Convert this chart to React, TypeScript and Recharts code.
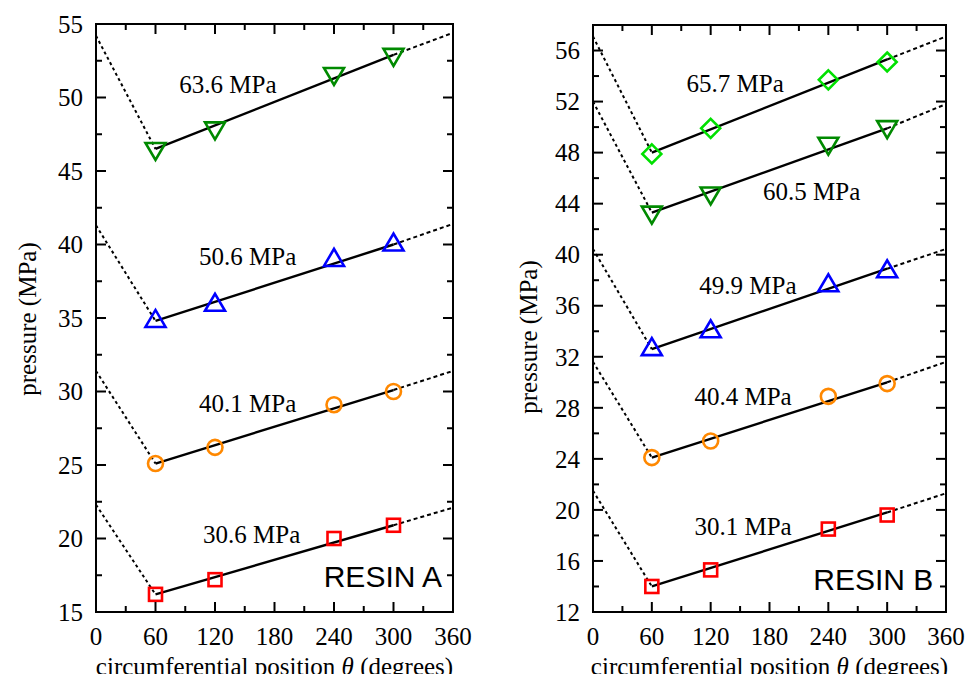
import React from 'react';
import { ComposedChart, Line, Scatter, XAxis, YAxis, ReferenceArea } from 'recharts';

const SERIF = '"Liberation Serif", "Times New Roman", serif';
const SANS = '"Liberation Sans", Arial, sans-serif';

// angles where pressure was measured, and the breakpoints of the fitted V lines
const angles = [60, 120, 240, 300];
const fitAngles = [0, 60, 300, 360];
const xTicks = [0, 30, 60, 90, 120, 150, 180, 210, 240, 270, 300, 330, 360];

// RESIN A measurements
const a636 = [46.5, 47.9, 51.6, 52.9];
const a506 = [34.8, 35.9, 38.95, 40.0];
const a401 = [25.1, 26.2, 29.1, 30.0];
const a306 = [16.2, 17.2, 20.0, 20.9];
// RESIN A fit lines (values at fitAngles)
const fitA636 = [54.2, 46.5, 52.9, 54.4];
const fitA506 = [41.3, 34.8, 40.0, 41.4];
const fitA401 = [31.4, 25.1, 30.1, 31.4];
const fitA306 = [22.3, 16.2, 20.9, 22.1];
const ticksA = [15, 17.5, 20, 22.5, 25, 27.5, 30, 32.5, 35, 37.5, 40, 42.5, 45, 47.5, 50, 52.5, 55];

// RESIN B measurements
const b657 = [47.9, 49.9, 53.7, 55.1];
const b605 = [43.3, 44.8, 48.7, 50.0];
const b499 = [32.6, 34.0, 37.6, 38.7];
const b404 = [24.1, 25.4, 28.9, 29.9];
const b301 = [14.0, 15.3, 18.5, 19.6];
// RESIN B fit lines
const fitB657 = [57.1, 48.0, 55.3, 57.1];
const fitB605 = [52.0, 43.3, 49.9, 51.8];
const fitB499 = [40.45, 32.6, 38.9, 40.45];
const fitB404 = [31.6, 24.1, 30.0, 31.6];
const fitB301 = [21.5, 14.0, 19.8, 21.3];
const ticksB = [12, 14, 16, 18, 20, 22, 24, 26, 28, 30, 32, 34, 36, 38, 40, 42, 44, 46, 48, 50, 52, 54, 56, 58];

// annotation labels
const labelsA = ['63.6 MPa', '50.6 MPa', '40.1 MPa', '30.6 MPa'];
const labelPosA = [[133, 50.9], [153, 39.2], [153, 29.2], [157, 20.3]];
const labelsB = ['65.7 MPa', '60.5 MPa', '49.9 MPa', '40.4 MPa', '30.1 MPa'];
const labelPosB = [[145, 53.4], [223, 45.0], [158, 37.6], [153, 28.9], [153, 18.7]];

type Box = { left: number; right: number; top: number; bottom: number };

const GREEN = '#008a00';
const LIGHT_GREEN = '#00e000';
const BLUE = '#0000ff';
const ORANGE = '#ff8800';
const RED = '#ff0000';

const markers: Record<string, (c: string) => (p: any) => React.ReactElement> = {
  down: (c) => (p) => (
    <polygon points={`${p.cx - 10},${p.cy - 6} ${p.cx + 10},${p.cy - 6} ${p.cx},${p.cy + 11}`} fill="none" stroke={c} strokeWidth={2.6} strokeLinejoin="miter" />
  ),
  up: (c) => (p) => (
    <polygon points={`${p.cx - 10},${p.cy + 6} ${p.cx + 10},${p.cy + 6} ${p.cx},${p.cy - 11}`} fill="none" stroke={c} strokeWidth={2.6} strokeLinejoin="miter" />
  ),
  circle: (c) => (p) => <circle cx={p.cx} cy={p.cy} r={7.5} fill="none" stroke={c} strokeWidth={2.6} />,
  square: (c) => (p) => <rect x={p.cx - 6.5} y={p.cy - 6.5} width={13} height={13} fill="none" stroke={c} strokeWidth={2.6} />,
  diamond: (c) => (p) => (
    <polygon points={`${p.cx},${p.cy - 9.5} ${p.cx + 9.5},${p.cy} ${p.cx},${p.cy + 9.5} ${p.cx - 9.5},${p.cy}`} fill="none" stroke={c} strokeWidth={2.6} />
  ),
};

const seg = (fit: number[], from: number, to: number) =>
  fitAngles.slice(from, to + 1).map((x, i) => ({ x, y: fit[from + i] }));

function yTick(box: Box, step: number) {
  return (props: any) => {
    const { y, payload } = props;
    const v = payload.value;
    const major = Math.abs(v / step - Math.round(v / step)) < 1e-6;
    const len = major ? 10 : 6;
    return (
      <g>
        <line x1={box.left} x2={box.left + len} y1={y} y2={y} stroke="#000" strokeWidth={2} />
        <line x1={box.right} x2={box.right - len} y1={y} y2={y} stroke="#000" strokeWidth={2} />
        {major && (
          <text x={box.left - 13} y={y} dy="0.35em" textAnchor="end" fontFamily={SERIF} fontSize={25} fill="#000">
            {v}
          </text>
        )}
      </g>
    );
  };
}

function xTick(box: Box) {
  return (props: any) => {
    const { x, payload } = props;
    const v = payload.value;
    const major = v % 60 === 0;
    const len = major ? 10 : 6;
    return (
      <g>
        <line x1={x} x2={x} y1={box.bottom} y2={box.bottom - len} stroke="#000" strokeWidth={2} />
        <line x1={x} x2={x} y1={box.top} y2={box.top + len} stroke="#000" strokeWidth={2} />
        {major && (
          <text x={x} y={box.bottom + 33} textAnchor="middle" fontFamily={SERIF} fontSize={25} fill="#000">
            {v}
          </text>
        )}
      </g>
    );
  };
}

type Series = { values: number[]; fit: number[]; color: string; shape: string };

type PanelProps = {
  width: number;
  height: number;
  box: Box;
  yDomain: [number, number];
  yTicks: number[];
  yStep: number;
  series: Series[];
  labels: string[];
  labelPos: number[][];
  resin: string;
  resinPos: [number, number];
  yLabelAt: [number, number];
};

function Panel(props: PanelProps) {
  const { width, height, box, yDomain, yTicks, yStep, series, labels, labelPos, resin, resinPos, yLabelAt } = props;
  const notes = labels.map((text, i) => ({ x: labelPos[i][0], y: labelPos[i][1], text }));
  const midX = (box.left + box.right) / 2;
  return (
    <ComposedChart
      width={width}
      height={height}
      margin={{ top: box.top, right: width - box.right, left: 0, bottom: 0 }}
    >
      <XAxis
        type="number"
        dataKey="x"
        domain={[0, 360]}
        ticks={xTicks}
        interval={0}
        allowDataOverflow
        axisLine={false}
        tickLine={false}
        tickSize={0}
        height={height - box.bottom}
        tick={xTick(box)}
      />
      <YAxis
        type="number"
        domain={yDomain}
        ticks={yTicks}
        interval={0}
        allowDataOverflow
        axisLine={false}
        tickLine={false}
        tickSize={0}
        width={box.left}
        tick={yTick(box, yStep)}
      />
      <ReferenceArea x1={0} x2={360} y1={yDomain[0]} y2={yDomain[1]} fill="none" fillOpacity={0} stroke="#000" strokeWidth={2} />
      {series.map((s, i) => (
        <Scatter
          key={'m' + i}
          data={angles.map((x, j) => ({ x, y: s.values[j] }))}
          dataKey="y"
          shape={markers[s.shape](s.color)}
          isAnimationActive={false}
        />
      ))}
      {series.map((s, i) => (
        <Line key={'l' + i} data={seg(s.fit, 0, 1)} dataKey="y" stroke="#000" strokeWidth={2} strokeDasharray="3 3" dot={false} activeDot={false} isAnimationActive={false} />
      ))}
      {series.map((s, i) => (
        <Line key={'s' + i} data={seg(s.fit, 1, 2)} dataKey="y" stroke="#000" strokeWidth={2.4} dot={false} activeDot={false} isAnimationActive={false} />
      ))}
      {series.map((s, i) => (
        <Line key={'r' + i} data={seg(s.fit, 2, 3)} dataKey="y" stroke="#000" strokeWidth={2} strokeDasharray="4 3" dot={false} activeDot={false} isAnimationActive={false} />
      ))}
      <Scatter
        data={notes}
        dataKey="y"
        isAnimationActive={false}
        shape={(p: any) => (
          <text x={p.cx} y={p.cy} dy="0.35em" textAnchor="middle" fontFamily={SERIF} fontSize={25} fill="#000">
            {p.payload.text}
          </text>
        )}
      />
      <Scatter
        data={[{ x: resinPos[0], y: resinPos[1] }]}
        dataKey="y"
        isAnimationActive={false}
        shape={(p: any) => (
          <text x={p.cx} y={p.cy} textAnchor="end" fontFamily={SANS} fontSize={30} fill="#000">
            {resin}
          </text>
        )}
      />
      <text
        x={yLabelAt[0]}
        y={yLabelAt[1]}
        transform={`rotate(-90, ${yLabelAt[0]}, ${yLabelAt[1]})`}
        textAnchor="middle"
        dominantBaseline="central"
        fontFamily={SERIF}
        fontSize={25}
        fill="#000"
      >
        pressure (MPa)
      </text>
      <text x={midX} y={height - 7} textAnchor="middle" fontFamily={SERIF} fontSize={25} fill="#000">
        circumferential position <tspan fontStyle="italic">θ</tspan> (degrees)
      </text>
    </ComposedChart>
  );
}

const seriesA: Series[] = [
  { values: a636, fit: fitA636, color: GREEN, shape: 'down' },
  { values: a506, fit: fitA506, color: BLUE, shape: 'up' },
  { values: a401, fit: fitA401, color: ORANGE, shape: 'circle' },
  { values: a306, fit: fitA306, color: RED, shape: 'square' },
];

const seriesB: Series[] = [
  { values: b657, fit: fitB657, color: LIGHT_GREEN, shape: 'diamond' },
  { values: b605, fit: fitB605, color: GREEN, shape: 'down' },
  { values: b499, fit: fitB499, color: BLUE, shape: 'up' },
  { values: b404, fit: fitB404, color: ORANGE, shape: 'circle' },
  { values: b301, fit: fitB301, color: RED, shape: 'square' },
];

export default function App() {
  return (
    <div style={{ position: 'relative', width: 978, height: 682, margin: -8, background: '#fff' }}>
      <div style={{ position: 'absolute', left: 0, top: 0 }}>
        <Panel
          width={490}
          height={682}
          box={{ left: 96, right: 453, top: 24, bottom: 612 }}
          yDomain={[15, 55]}
          yTicks={ticksA}
          yStep={5}
          series={seriesA}
          labels={labelsA}
          labelPos={labelPosA}
          resin="RESIN A"
          resinPos={[349, 16.7]}
          yLabelAt={[27, 319]}
        />
      </div>
      <div style={{ position: 'absolute', left: 490, top: 0 }}>
        <Panel
          width={488}
          height={682}
          box={{ left: 103, right: 456, top: 25, bottom: 612 }}
          yDomain={[12, 58]}
          yTicks={ticksB}
          yStep={4}
          series={seriesB}
          labels={labelsB}
          labelPos={labelPosB}
          resin="RESIN B"
          resinPos={[347, 13.7]}
          yLabelAt={[38, 337]}
        />
      </div>
    </div>
  );
}
